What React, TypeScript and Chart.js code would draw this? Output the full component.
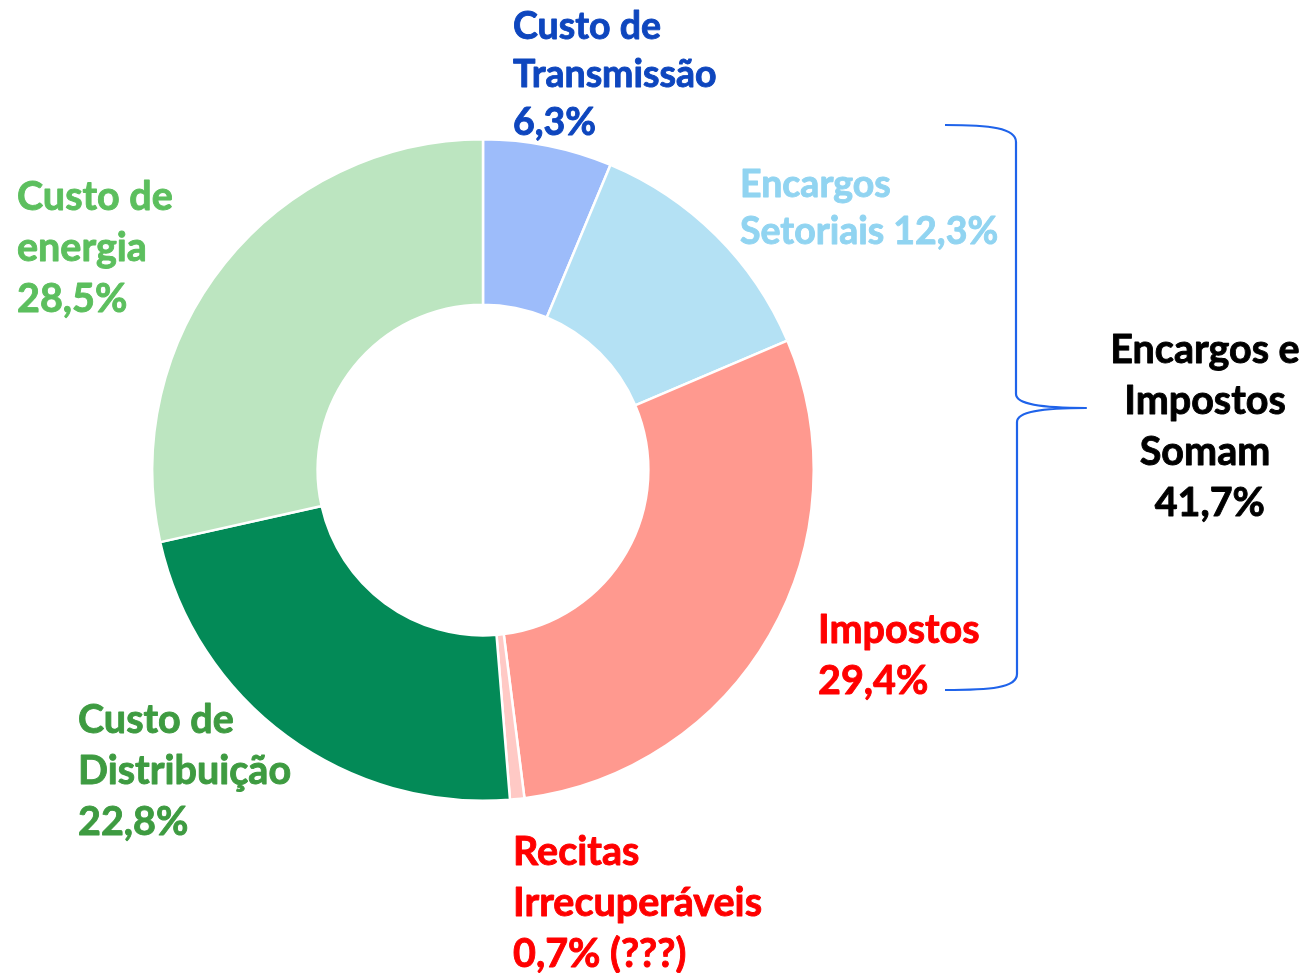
import React, { useEffect, useRef } from "react";
import { Chart, registerables } from "chart.js";

Chart.register(...registerables);

const categories = [
  "Custo de Transmissão",
  "Encargos Setoriais",
  "Impostos",
  "Recitas Irrecuperáveis",
  "Custo de Distribuição",
  "Custo de energia",
];
const shares = [6.3, 12.3, 29.4, 0.7, 22.8, 28.5];
const sliceColors = ["#9DBCFA", "#B4E1F4", "#FF998F", "#FFC9C5", "#038A57", "#BCE5C0"];
const labelColors = ["#0E46BE", "#91D4F1", "#FF0000", "#FF0000", "#3E9B41", "#5CBF5E"];
const groupTitle = ["Encargos e", "Impostos", "Somam"];
const groupMembers = [1, 2];

const fmt = (v: number) => v.toFixed(1).replace(".", ",") + "%";

// label layout: x, first baseline, line height, font size, lines
const labelLayout = [
  { x: 513, y: 39, lh: 48, size: 37.5, lines: (p: string) => ["Custo de", "Transmissão", p] },
  { x: 740, y: 197, lh: 47, size: 37.5, lines: (p: string) => ["Encargos", "Setoriais " + p] },
  { x: 818, y: 643, lh: 51, size: 39.5, lines: (p: string) => ["Impostos", p] },
  { x: 513, y: 865, lh: 51, size: 39.5, lines: (p: string) => ["Recitas", "Irrecuperáveis", p + " (???)"] },
  { x: 78, y: 733, lh: 51, size: 39.5, lines: (p: string) => ["Custo de", "Distribuição", p] },
  { x: 17, y: 210, lh: 51, size: 39.5, lines: (p: string) => ["Custo de", "energia", p] },
];

const FONT = "Lato, 'Open Sans', sans-serif";

const drawText = (ctx: CanvasRenderingContext2D, t: string, x: number, y: number) => {
  ctx.fillText(t, x, y);
  ctx.strokeText(t, x, y);
};

const annotationPlugin = {
  id: "annotations",
  afterDraw(chart: any) {
    const ctx = chart.ctx as CanvasRenderingContext2D;
    ctx.save();
    ctx.textBaseline = "alphabetic";
    ctx.textAlign = "left";
    ctx.lineWidth = 0.9;
    ctx.lineJoin = "round";
    labelLayout.forEach((l, i) => {
      ctx.font = `bold ${l.size}px ${FONT}`;
      ctx.fillStyle = labelColors[i];
      ctx.strokeStyle = labelColors[i];
      l.lines(fmt(shares[i])).forEach((t, j) => drawText(ctx, t, l.x, l.y + j * l.lh));
    });
    // group total
    const total = groupMembers.reduce((s, k) => s + shares[k], 0);
    ctx.font = `bold 39.5px ${FONT}`;
    ctx.fillStyle = "#000000";
    ctx.strokeStyle = "#000000";
    ctx.textAlign = "center";
    [...groupTitle, " " + fmt(total)].forEach((t, j) => drawText(ctx, t, 1205, 363 + j * 51));
    // brace
    ctx.strokeStyle = "#1F63EA";
    ctx.lineWidth = 2.2;
    ctx.beginPath();
    ctx.moveTo(945, 125);
    ctx.bezierCurveTo(990, 125, 1016, 128, 1016, 142);
    ctx.lineTo(1016, 394);
    ctx.bezierCurveTo(1016, 404, 1040, 408, 1086, 408);
    ctx.bezierCurveTo(1040, 408, 1017, 412, 1017, 422);
    ctx.lineTo(1017, 674);
    ctx.bezierCurveTo(1017, 688, 990, 690, 945, 690);
    ctx.stroke();
    ctx.restore();
  },
};

export default function App() {
  const ref = useRef<HTMLCanvasElement>(null);
  useEffect(() => {
    document.body.style.margin = "0";
    const chart = new Chart(ref.current!, {
      type: "doughnut",
      data: {
        labels: categories,
        datasets: [
          {
            data: shares,
            backgroundColor: sliceColors,
            borderColor: "#FFFFFF",
            borderWidth: 2.5,
          },
        ],
      },
      options: {
        responsive: false,
        animation: false,
        cutout: "50%",
        layout: { padding: { left: 151, right: 489, top: 138, bottom: 171 } },
        plugins: { legend: { display: false }, tooltip: { enabled: false } },
      },
      plugins: [annotationPlugin],
    });
    return () => chart.destroy();
  }, []);
  return (
    <div style={{ position: "absolute", left: 0, top: 0, width: 1304, height: 973, background: "#fff" }}>
      <canvas ref={ref} width={1304} height={973} />
    </div>
  );
}
